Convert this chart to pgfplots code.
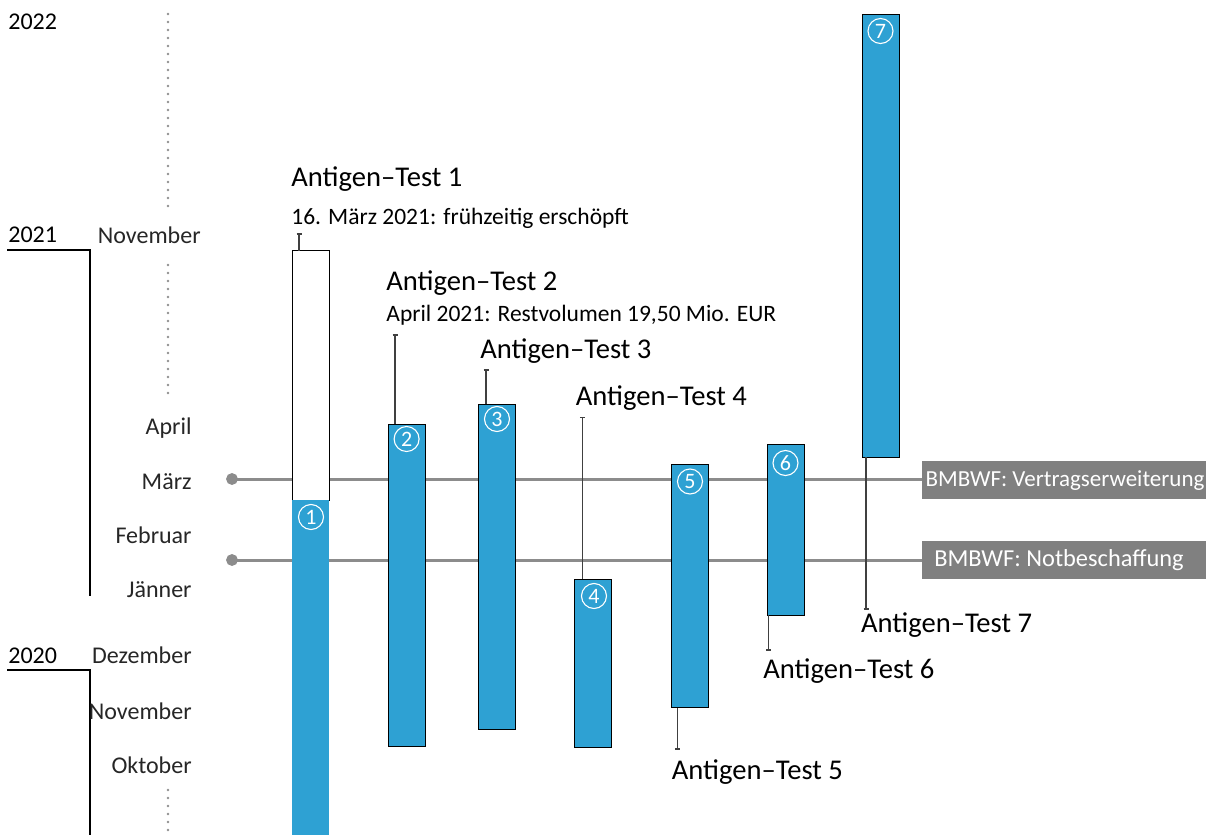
\documentclass[border=0pt]{standalone}
\usepackage{fontspec}
\setmainfont{Carlito}
\usepackage{pgfplots}
\pgfplotsset{compat=1.18}

\definecolor{bblue}{HTML}{2EA1D3}
\definecolor{lgray}{HTML}{8C8C8C}
\definecolor{bgray}{HTML}{808080}
\definecolor{dgray}{HTML}{909090}
\definecolor{wcol}{HTML}{404040}
\definecolor{mcol}{HTML}{262626}

% one unit = one pixel of the reference (0.5pt)
\newcommand\tfont{\fontsize{14.3pt}{17pt}\selectfont}
\newcommand\sfont{\fontsize{11.75pt}{14pt}\selectfont}
\newcommand\mfont{\fontsize{12pt}{14pt}\selectfont}

% floating bar: [style] {left} {right} {top} {bottom}
\newcommand\fbar[5][]{%
  \addplot[draw=black, line width=0.5pt, fill=bblue, #1]
    coordinates {(#2,#4) (#3,#4) (#3,#5) (#2,#5)} -- cycle;}
% whisker: {x} {from} {to, capped}
\newcommand\whisk[3]{%
  \addplot[wcol, line width=0.55pt] coordinates {(#1,#2) (#1,#3)};
  \addplot[wcol, line width=0.55pt] coordinates {(#1-2.5,#3) (#1+2.5,#3)};}
\newcommand\num[3]{%
  \node[circle, draw=white, line width=0.55pt, inner sep=0pt, minimum size=12.5pt,
        text=white, font=\fontsize{11pt}{12pt}\selectfont] at (axis cs:#1,#2) {#3};}

\begin{document}
\begin{tikzpicture}[every node/.style={inner sep=0pt}]
\begin{axis}[
    width=603pt, height=417.5pt, scale only axis,
    xmin=0, xmax=1206, ymin=0, ymax=835,
    y dir=reverse,
    hide axis,
    clip=false,
    ]

% year brackets
\node[anchor=base west, font=\mfont] at (axis cs:8,30) {2022};
\node[anchor=base west, font=\mfont] at (axis cs:8,242) {2021};
\node[anchor=base west, font=\mfont] at (axis cs:8,663) {2020};
\draw[black, line width=0.6pt] (axis cs:7,250) -- (axis cs:90,250) -- (axis cs:90,596);
\draw[black, line width=0.6pt] (axis cs:7,670) -- (axis cs:90,670) -- (axis cs:90,835);

% dotted gaps in the time axis
\draw[dgray, line width=1.3pt, line cap=round, dash pattern=on 0pt off 4pt]
  (axis cs:168,14) -- (axis cs:168,212);
\draw[dgray, line width=1.3pt, line cap=round, dash pattern=on 0pt off 4pt]
  (axis cs:168,265) -- (axis cs:168,398);
\draw[dgray, line width=1.3pt, line cap=round, dash pattern=on 0pt off 4pt]
  (axis cs:168,790) -- (axis cs:168,835);

% months
\node[anchor=base east, font=\mfont, text=mcol] at (axis cs:201,243) {November};
\node[anchor=base east, font=\mfont, text=mcol] at (axis cs:192,434) {April};
\node[anchor=base east, font=\mfont, text=mcol] at (axis cs:192,489) {März};
\node[anchor=base east, font=\mfont, text=mcol] at (axis cs:192,543) {Februar};
\node[anchor=base east, font=\mfont, text=mcol] at (axis cs:192,597) {Jänner};
\node[anchor=base east, font=\mfont, text=mcol] at (axis cs:192,663) {Dezember};
\node[anchor=base east, font=\mfont, text=mcol] at (axis cs:192,719) {November};
\node[anchor=base east, font=\mfont, text=mcol] at (axis cs:192,773) {Oktober};

% BMBWF lines
\addplot[lgray, line width=1.5pt] coordinates {(232,479) (922,479)};
\addplot[lgray, line width=1.5pt] coordinates {(232,560) (922,560)};
\addplot[only marks, mark=*, mark size=2.75pt, lgray] coordinates {(232,479) (232,560)};
\fill[bgray] (axis cs:922,461) rectangle (axis cs:1206,498.7);
\fill[bgray] (axis cs:922,541) rectangle (axis cs:1206,578.7);
\node[anchor=base, font=\fontsize{11.5pt}{14pt}\selectfont, text=white] at (axis cs:1065,486.7) {BMBWF: Vertragserweiterung};
\node[anchor=base, font=\fontsize{12.2pt}{14pt}\selectfont, text=white] at (axis cs:1059,566.7) {BMBWF: Notbeschaffung};

% bars
\fbar[fill=white]{292.3}{329.3}{250.7}{500}
\fbar[draw=none]{292.3}{329.3}{500}{835}
\fbar{388.3}{425}{424.3}{746.7}
\fbar{478.3}{515}{404}{729}
\fbar{574.7}{611.8}{579}{747.3}
\fbar{671.5}{708.6}{464}{707.7}
\fbar{767}{804}{444.3}{615}
\fbar{862}{899}{14}{457}

% whiskers
\whisk{299}{250.7}{234}
\whisk{395}{424.3}{335}
\whisk{486}{404}{370}
\whisk{582.3}{579}{417.7}
\whisk{677.6}{707.7}{749}
\whisk{768.7}{615}{650}
\whisk{866}{457}{609}

% numbers
\num{311}{517}{1}
\num{406.6}{439}{2}
\num{497}{419}{3}
\num{594}{596}{4}
\num{690}{481.5}{5}
\num{785.5}{463}{6}
\num{880.5}{31}{7}

% labels
\node[anchor=base west, font=\tfont] at (axis cs:291,186.7) {Antigen–Test 1};
\node[anchor=base west, font=\sfont] at (axis cs:291,224) {16. März 2021: frühzeitig erschöpft};
\node[anchor=base west, font=\tfont] at (axis cs:386,290.7) {Antigen–Test 2};
\node[anchor=base west, font=\sfont] at (axis cs:386,321) {April 2021: Restvolumen 19,50 Mio. EUR};
\node[anchor=base west, font=\tfont] at (axis cs:480,358) {Antigen–Test 3};
\node[anchor=base west, font=\tfont] at (axis cs:575.5,405) {Antigen–Test 4};
\node[anchor=base west, font=\tfont] at (axis cs:671.5,779) {Antigen–Test 5};
\node[anchor=base west, font=\tfont] at (axis cs:763,678) {Antigen–Test 6};
\node[anchor=base west, font=\tfont] at (axis cs:860.7,632) {Antigen–Test 7};
\end{axis}
\pgfresetboundingbox
\path (current axis.south west) rectangle (current axis.north east);
\end{tikzpicture}
\end{document}
